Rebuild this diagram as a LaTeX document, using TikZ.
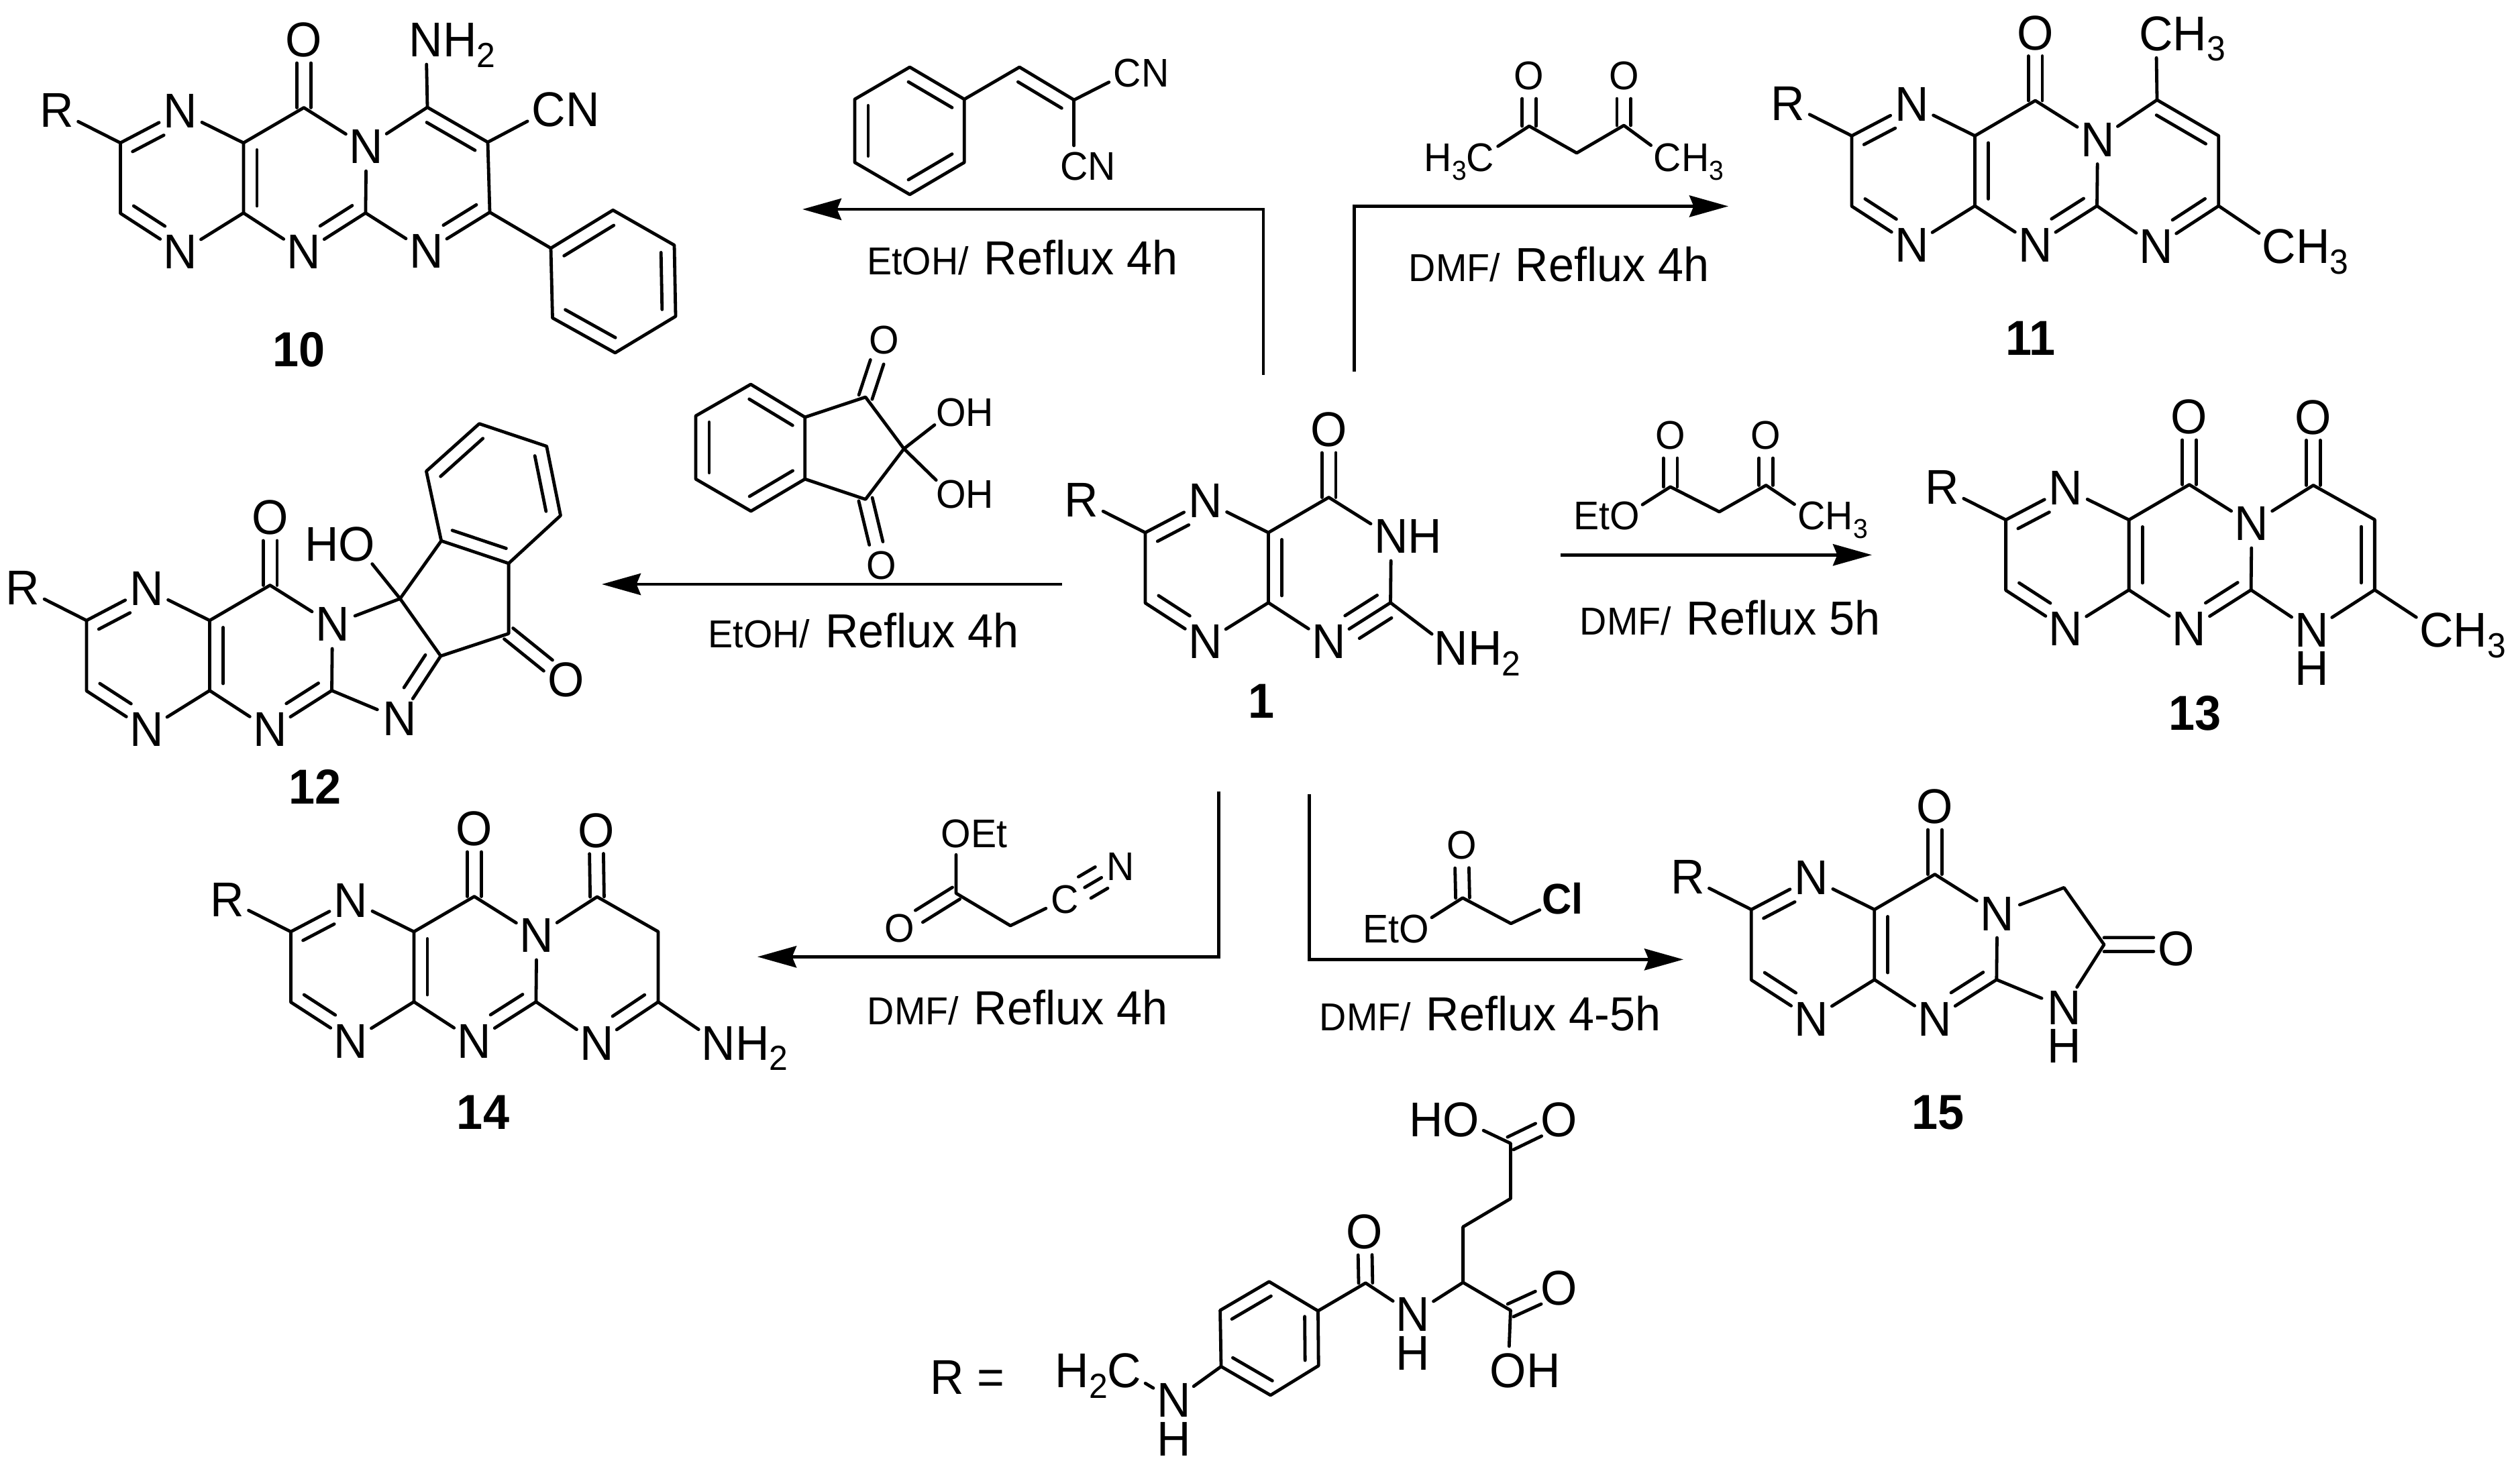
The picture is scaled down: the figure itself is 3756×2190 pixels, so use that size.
\documentclass[tikz,border=0pt]{standalone}
\usepackage{fontspec}
\setmainfont[FakeStretch=0.96]{Liberation Sans}
\usetikzlibrary{calc,arrows.meta}
\newcommand\chsub[1]{\raisebox{-3.9pt}{\fontsize{13}{13}\selectfont #1}}
\newcommand\rsub[1]{\raisebox{-3.3pt}{\fontsize{10.2}{10.2}\selectfont #1}}
\newcommand\innerbond[6][5pt]{\draw[bond] ($(#2)!#4!(#3)!#1!#6:(#3)$) -- ($(#2)!#5!(#3)!#1!#6:(#3)$);}
\newcommand\dcL[2]{\innerbond{#1}{#2}{.1}{.9}{90}}
\newcommand\dcR[2]{\innerbond{#1}{#2}{.1}{.9}{-90}}
\newcommand\dnL[2]{\innerbond{#1}{#2}{.1}{.62}{90}}
\newcommand\dnR[2]{\innerbond{#1}{#2}{.1}{.62}{-90}}
\newcommand\dblO[2]{\draw[bond] ($(#1)!2.6pt!90:(#2)$) -- ($(#2)!8.5pt!(#1)!2.6pt!-90:(#1)$);
  \draw[bond] ($(#1)!2.6pt!-90:(#2)$) -- ($(#2)!8.5pt!(#1)!2.6pt!90:(#1)$);}
\newcommand\chb[2]{\draw[bond] (#1) -- (#2);}
% prefix, origin x, origin y, text of ring N
\newcommand\core[4]{%
  \begin{scope}[shift={(#2,#3)}]
    \coordinate (#1a1) at (0,0);
    \coordinate (#1a2) at (0,105);
    \coordinate (#1c4) at (183.5,0);
    \coordinate (#1c8) at (183.5,104.5);
    \coordinate (#1co) at (273.5,-52.5);
    \coordinate (#1c2) at (365.5,104.5);
    \node[atom] (#1N1) at (89.5,-47) {N};
    \node[atom] (#1N2) at (89.5,163) {N};
    \node[atom] (#1N3) at (273.5,163) {N};
    \node[atom] (#1Nr) at (366.5,6) {#4};
    \node[atom] (#1O) at (273.5,-153) {O};
    \node[atom] (#1R) at (-95,-48) {R};
  \end{scope}
  \draw[bond] (#1R) -- (#1a1) -- (#1N1);
  \draw[bond] (#1a1) -- (#1a2) -- (#1N2);
  \draw[bond] (#1N1) -- (#1c4) -- (#1c8) -- (#1N2);
  \draw[bond] (#1c4) -- (#1co) -- (#1Nr) -- (#1c2) -- (#1N3) -- (#1c8);
  \dblO{#1co}{#1O}
  \dnR{#1a1}{#1N1}
  \dnL{#1a2}{#1N2}
  \dcL{#1c4}{#1c8}
  \dnR{#1c2}{#1N3}
}
\tikzset{
  bond/.style={line width=1.2pt,line cap=round,line join=round},
  atom/.style={circle,inner sep=0pt,outer sep=0pt,minimum size=18pt,font=\fontsize{18.2}{18.2}\selectfont,text height=12.5pt,text depth=0pt},
  ratom/.style={atom,minimum size=15.5pt,font=\fontsize{14.9}{14.9}\selectfont,text height=10.3pt},
  clatom/.style={atom,font=\fontsize{16}{16}\selectfont\bfseries,text height=11pt},
  num/.style={inner sep=0pt,font=\fontsize{18.3}{18.3}\selectfont\bfseries,text height=12.8pt,text depth=0pt},
  cond/.style={inner sep=0pt,anchor=base west},
  rxn/.style={line width=1.2pt,-{Stealth[length=14.5pt,width=8pt,inset=1.6pt]}}
}
\newcommand\cnd[2]{{\fontsize{14.5}{14.5}\selectfont #1}{\fontsize{17.8}{17.8}\selectfont\ \kern1pt #2}}
\begin{document}
\begin{tikzpicture}[x=0.25pt,y=-0.25pt]
\useasboundingbox (0,0) rectangle (3756,2190);
\fill[white] (0,0) rectangle (3756,2190);

%% ---- compound 1
\core{u}{1707}{794}{N\rlap{H}}
\node[atom] (uNN) at (2162.8,967) {N\rlap{H\chsub{2}}};
\chb{uc2}{uNN}
\dnL{uc2}{uN3}
\node[num] (lab1) at (1880,1045) {1};

%% ---- compound 10
\core{j}{179.4}{213}{N}
\node[atom] (jNH) at (635,60) {N\rlap{H\chsub{2}}};
\node[atom] (jCN) at (818,164) {C\rlap{N}};
\coordinate (jc5) at (637,160);
\coordinate (jc6) at (727,212);
\coordinate (jc7) at (730,316.5);
\node[atom] (jN4) at (635.4,375) {N};
\coordinate (jp1) at (821,370);
\coordinate (jp2) at (913.6,313.3);
\coordinate (jp3) at (1005,365.5);
\coordinate (jp4) at (1007,471.6);
\coordinate (jp5) at (916.8,526);
\coordinate (jp6) at (823.5,474);
\draw[bond] (jNr) -- (jc5) -- (jc6) -- (jc7) -- (jN4) -- (jc2);
\chb{jc5}{jNH}
\chb{jc6}{jCN}
\dcR{jc5}{jc6}
\dnR{jc7}{jN4}
\chb{jc7}{jp1}
\draw[bond] (jp1) -- (jp2) -- (jp3) -- (jp4) -- (jp5) -- (jp6) -- cycle;
\dcR{jp1}{jp2}
\dcR{jp3}{jp4}
\dcR{jp5}{jp6}
\node[num] (lab10) at (446,521) {10};

%% ---- compound 11
\core{e}{2760}{202.5}{N}
\node[atom] (eM1) at (3213.5,50.3) {C\rlap{H\chsub{3}}};
\node[atom] (eM2) at (3396.8,367.8) {C\rlap{H\chsub{3}}};
\node[atom] (eN4) at (3213.5,367.8) {N};
\coordinate (ec5) at (3215,149);
\coordinate (ec6) at (3306.8,202.5);
\coordinate (ec7) at (3306.8,307);
\draw[bond] (eNr) -- (ec5) -- (ec6) -- (ec7) -- (eN4) -- (ec2);
\chb{ec5}{eM1}
\chb{ec7}{eM2}
\dcR{ec5}{ec6}
\dnR{ec7}{eN4}
\node[num] (lab11) at (3026.4,503.7) {11};

%% ---- compound 12
\core{t}{129}{925}{N}
\node[atom] (tHO) at (531.7,812) {\llap{H}O};
\coordinate (tc9) at (596.3,892.5);
\coordinate (tb1) at (657.7,806.3);
\coordinate (tb2) at (635.4,702.5);
\coordinate (tb3) at (714.3,631.7);
\coordinate (tb4) at (814.7,665.3);
\coordinate (tb5) at (835.5,768.6);
\coordinate (tb6) at (758.1,839.9);
\coordinate (tk) at (758.1,944.6);
\coordinate (tim) at (656.9,978);
\node[atom] (tO2) at (843.4,1013.5) {O};
\node[atom] (tN4) at (595.5,1071.7) {N};
\draw[bond] (tNr) -- (tc9) -- (tim) -- (tk) -- (tb6) -- (tb1) -- (tc9);
\chb{tc9}{tHO}
\draw[bond] (tb1) -- (tb2) -- (tb3) -- (tb4) -- (tb5) -- (tb6);
\draw[bond] (tim) -- (tN4) -- (tc2);
\dnR{tim}{tN4}
\dblO{tk}{tO2}
\dcR{tb2}{tb3}
\dcR{tb4}{tb5}
\dcR{tb6}{tb1}
\node[num] (lab12) at (470,1172.7) {12};

%% ---- compound 13
\core{h}{2989.6}{775}{N}
\node[atom] (hO2) at (3447.9,622.4) {O};
\node[atom] (hN4) at (3445.5,940) {N};
\node[atom] (hH) at (3445.5,997) {H};
\node[atom] (hM) at (3631.4,940) {C\rlap{H\chsub{3}}};
\coordinate (hc5) at (3447.9,723.5);
\coordinate (hc6) at (3539.3,774.7);
\coordinate (hc7) at (3539.3,879.4);
\draw[bond] (hNr) -- (hc5) -- (hc6) -- (hc7) -- (hN4) -- (hc2);
\chb{hc7}{hM}
\dblO{hc5}{hO2}
\dcR{hc6}{hc7}
\node[num] (lab13) at (3271.6,1063) {13};

%% ---- compound 14
\core{f}{433.4}{1389}{N}
\node[atom] (fO2) at (888.5,1238.7) {O};
\node[atom] (fN4) at (889.3,1555) {N};
\node[atom] (fNH) at (1071,1555) {N\rlap{H\chsub{2}}};
\coordinate (fc5) at (890,1337);
\coordinate (fc6) at (981,1388.9);
\coordinate (fc7) at (981,1493.7);
\draw[bond] (fNr) -- (fc5) -- (fc6) -- (fc7) -- (fN4) -- (fc2);
\chb{fc7}{fNH}
\dblO{fc5}{fO2}
\dnR{fc7}{fN4}
\node[num] (lab14) at (720,1658) {14};

%% ---- compound 15
\core{v}{2610.3}{1356}{N}
\node[atom] (vN4) at (3076.3,1502) {N};
\node[atom] (vH) at (3076.3,1559.4) {H};
\node[atom] (vO2) at (3243.8,1414.3) {O};
\coordinate (vO2t) at (3243.8,1408);
\coordinate (vc5) at (3076.3,1323.3);
\coordinate (vc6) at (3136,1408.2);
\draw[bond] (vNr) -- (vc5) -- (vc6) -- (vN4) -- (vc2);
\dblO{vc6}{vO2t}
\node[num] (lab15) at (2888.9,1657.4) {15};

%% ---- reagent: benzylidene malononitrile
\coordinate (ap1) at (1356,100.1);
\coordinate (ap2) at (1437.3,148);
\coordinate (ap3) at (1437.3,242.1);
\coordinate (ap4) at (1356,290);
\coordinate (ap5) at (1273.9,242.1);
\coordinate (ap6) at (1273.9,148);
\coordinate (ach) at (1519.5,100.1);
\coordinate (acc) at (1600.8,149);
\node[ratom] (acn1) at (1680.5,108.5) {C\rlap{N}};
\node[ratom] (acn2) at (1600.8,248) {C\rlap{N}};
\draw[bond] (ap1) -- (ap2) -- (ap3) -- (ap4) -- (ap5) -- (ap6) -- cycle;
\draw[bond] (ap2) -- (ach) -- (acc) -- (acn1);
\chb{acc}{acn2}
\dcR{ap1}{ap2}
\dcR{ap3}{ap4}
\dcR{ap5}{ap6}
\dcR{ach}{acc}

%% ---- reagent: acetylacetone
\node[ratom] (bO1) at (2279.2,113.1) {O};
\node[ratom] (bO2) at (2420.3,113.1) {O};
\node[ratom] (bM1) at (2206.6,235) {\llap{H\rsub{3}}C};
\node[ratom] (bM2) at (2485.6,235) {C\rlap{H\rsub{3}}};
\coordinate (bc1) at (2279.2,188);
\coordinate (bc2) at (2420.3,187);
\coordinate (bch) at (2350,228.1);
\draw[bond] (bM1) -- (bc1) -- (bch) -- (bc2) -- (bM2);
\dblO{bc1}{bO1}
\dblO{bc2}{bO2}

%% ---- reagent: ninhydrin
\coordinate (np1) at (1119,573);
\coordinate (np2) at (1199.8,622);
\coordinate (np3) at (1199.8,714.2);
\coordinate (np4) at (1119.3,762);
\coordinate (np5) at (1037,714.2);
\coordinate (np6) at (1037,620);
\coordinate (nk1) at (1290,592);
\coordinate (nk2) at (1290,744.4);
\coordinate (nc) at (1347.3,669);
\node[ratom] (nO1) at (1317.8,507.4) {O};
\node[ratom] (nO2) at (1313.8,843) {O};
\node[ratom] (nH1) at (1417.4,614.5) {O\rlap{H}};
\node[ratom] (nH2) at (1417.4,737.4) {O\rlap{H}};
\draw[bond] (np1) -- (np2) -- (np3) -- (np4) -- (np5) -- (np6) -- cycle;
\draw[bond] (np2) -- (nk1) -- (nc) -- (nk2) -- (np3);
\chb{nc}{nH1}
\chb{nc}{nH2}
\dblO{nk1}{nO1}
\dblO{nk2}{nO2}
\dcR{np1}{np2}
\dcR{np3}{np4}
\dcR{np5}{np6}

%% ---- reagent: ethyl acetoacetate
\node[ratom] (cE) at (2421.9,769) {\llap{Et}O};
\node[ratom] (cO1) at (2489.6,649) {O};
\node[ratom] (cO2) at (2632.2,649) {O};
\node[ratom] (cM) at (2700.3,769) {C\rlap{H\rsub{3}}};
\coordinate (cc1) at (2489.6,725.8);
\coordinate (cch) at (2562.5,763);
\coordinate (cc2) at (2632.2,723.5);
\draw[bond] (cE) -- (cc1) -- (cch) -- (cc2) -- (cM);
\dblO{cc1}{cO1}
\dblO{cc2}{cO2}

%% ---- reagent: ethyl cyanoacetate
\node[ratom] (dE) at (1425,1243.3) {O\rlap{Et}};
\node[ratom] (dO) at (1341,1384) {O};
\node[ratom] (dC) at (1586.7,1340.7) {C};
\node[ratom] (dN) at (1670,1291.7) {N};
\coordinate (dc1) at (1425,1331.7);
\coordinate (dch) at (1506,1380);
\draw[bond] (dE) -- (dc1) -- (dch) -- (dC);
\dblO{dc1}{dO}
\innerbond[0pt]{dC}{dN}{.36}{.66}{90}
\innerbond[4.6pt]{dC}{dN}{.36}{.66}{90}
\innerbond[4.6pt]{dC}{dN}{.36}{.66}{-90}

%% ---- reagent: ethyl chloroacetate
\node[ratom] (gO) at (2178.3,1260) {O};
\node[ratom] (gE) at (2107.8,1384.5) {\llap{Et}O};
\node[clatom] (gC) at (2329,1340.5) {Cl};
\coordinate (gc1) at (2180,1338.6);
\coordinate (gch) at (2252,1376.8);
\draw[bond] (gE) -- (gc1) -- (gch) -- (gC);
\dblO{gc1}{gO}

%% ---- R group
\node[cond,font=\fontsize{18.2}{18.2}\selectfont] (rL) at (1386,2078) {R =};
\node[atom] (rC) at (1676.2,2043.8) {\llap{H\chsub{2}}C};
\node[atom] (rN) at (1749.9,2087.8) {N};
\node[atom] (rH) at (1749.9,2145) {H};
\coordinate (r1) at (1820,2037.2);
\coordinate (r2) at (1818.6,1953.5);
\coordinate (r3) at (1891.6,1910.7);
\coordinate (r4) at (1964.5,1954.3);
\coordinate (r5) at (1965.2,2036);
\coordinate (r6) at (1893.7,2080);
\coordinate (rc) at (2035.4,1912.7);
\node[atom] (rO) at (2034,1836.8) {O};
\node[atom] (rN2) at (2106.2,1959.4) {N};
\node[atom] (rH2) at (2106.2,2017.7) {H};
\coordinate (ra) at (2180.6,1911.9);
\coordinate (rb) at (2180.6,1829);
\coordinate (rg) at (2251.4,1787);
\coordinate (rt) at (2251.4,1704.5);
\node[atom] (rHO) at (2177.8,1669.5) {\llap{H}O};
\node[atom] (rO1) at (2323.7,1669.5) {O};
\coordinate (rl) at (2251.4,1953.5);
\node[atom] (rO2) at (2323.7,1920.5) {O};
\node[atom] (rOH) at (2247.9,2043.8) {O\rlap{H}};
\draw[bond] (rC) -- (rN) -- (r1);
\draw[bond] (r1) -- (r2) -- (r3) -- (r4) -- (r5) -- (r6) -- cycle;
\draw[bond] (r4) -- (rc) -- (rN2) -- (ra) -- (rb) -- (rg) -- (rt) -- (rHO);
\draw[bond] (ra) -- (rl) -- (rOH);
\dblO{rc}{rO}
\dblO{rt}{rO1}
\dblO{rl}{rO2}
\dcR{r2}{r3}
\dcR{r4}{r5}
\dcR{r6}{r1}

%% ---- reaction arrows
\coordinate (a1s) at (1883,558.7);
\coordinate (a1k) at (1883,312);
\coordinate (a1e) at (1196,312);
\coordinate (a2s) at (2018.5,554);
\coordinate (a2k) at (2018.5,307.5);
\coordinate (a2e) at (2576,307.5);
\coordinate (a3s) at (1583,871);
\coordinate (a3e) at (897,871);
\coordinate (a4s) at (2326,827.3);
\coordinate (a4e) at (2790,827.3);
\coordinate (a5s) at (1816.8,1179.7);
\coordinate (a5k) at (1816.8,1426.4);
\coordinate (a5e) at (1129,1426.4);
\coordinate (a6s) at (1951.5,1184.4);
\coordinate (a6k) at (1951.5,1430.4);
\coordinate (a6e) at (2509,1430.4);
\draw[rxn] (a1s) -- (a1k) -- (a1e);
\draw[rxn] (a2s) -- (a2k) -- (a2e);
\draw[rxn] (a3s) -- (a3e);
\draw[rxn] (a4s) -- (a4e);
\draw[rxn] (a5s) -- (a5k) -- (a5e);
\draw[rxn] (a6s) -- (a6k) -- (a6e);

%% ---- conditions
\node[cond] (t1) at (1291.5,409.7) {\cnd{EtOH/}{Reflux 4h}};
\node[cond] (t2) at (2099,420) {\cnd{DMF/}{Reflux 4h}};
\node[cond] (t3) at (1054.7,966) {\cnd{EtOH/}{Reflux 4h}};
\node[cond] (t4) at (2354,947) {\cnd{DMF/}{Reflux 5h}};
\node[cond] (t5) at (1292,1527.4) {\cnd{DMF/}{Reflux 4h}};
\node[cond] (t6) at (1966,1536.8) {\cnd{DMF/}{Reflux 4-5h}};
\end{tikzpicture}
\end{document}
